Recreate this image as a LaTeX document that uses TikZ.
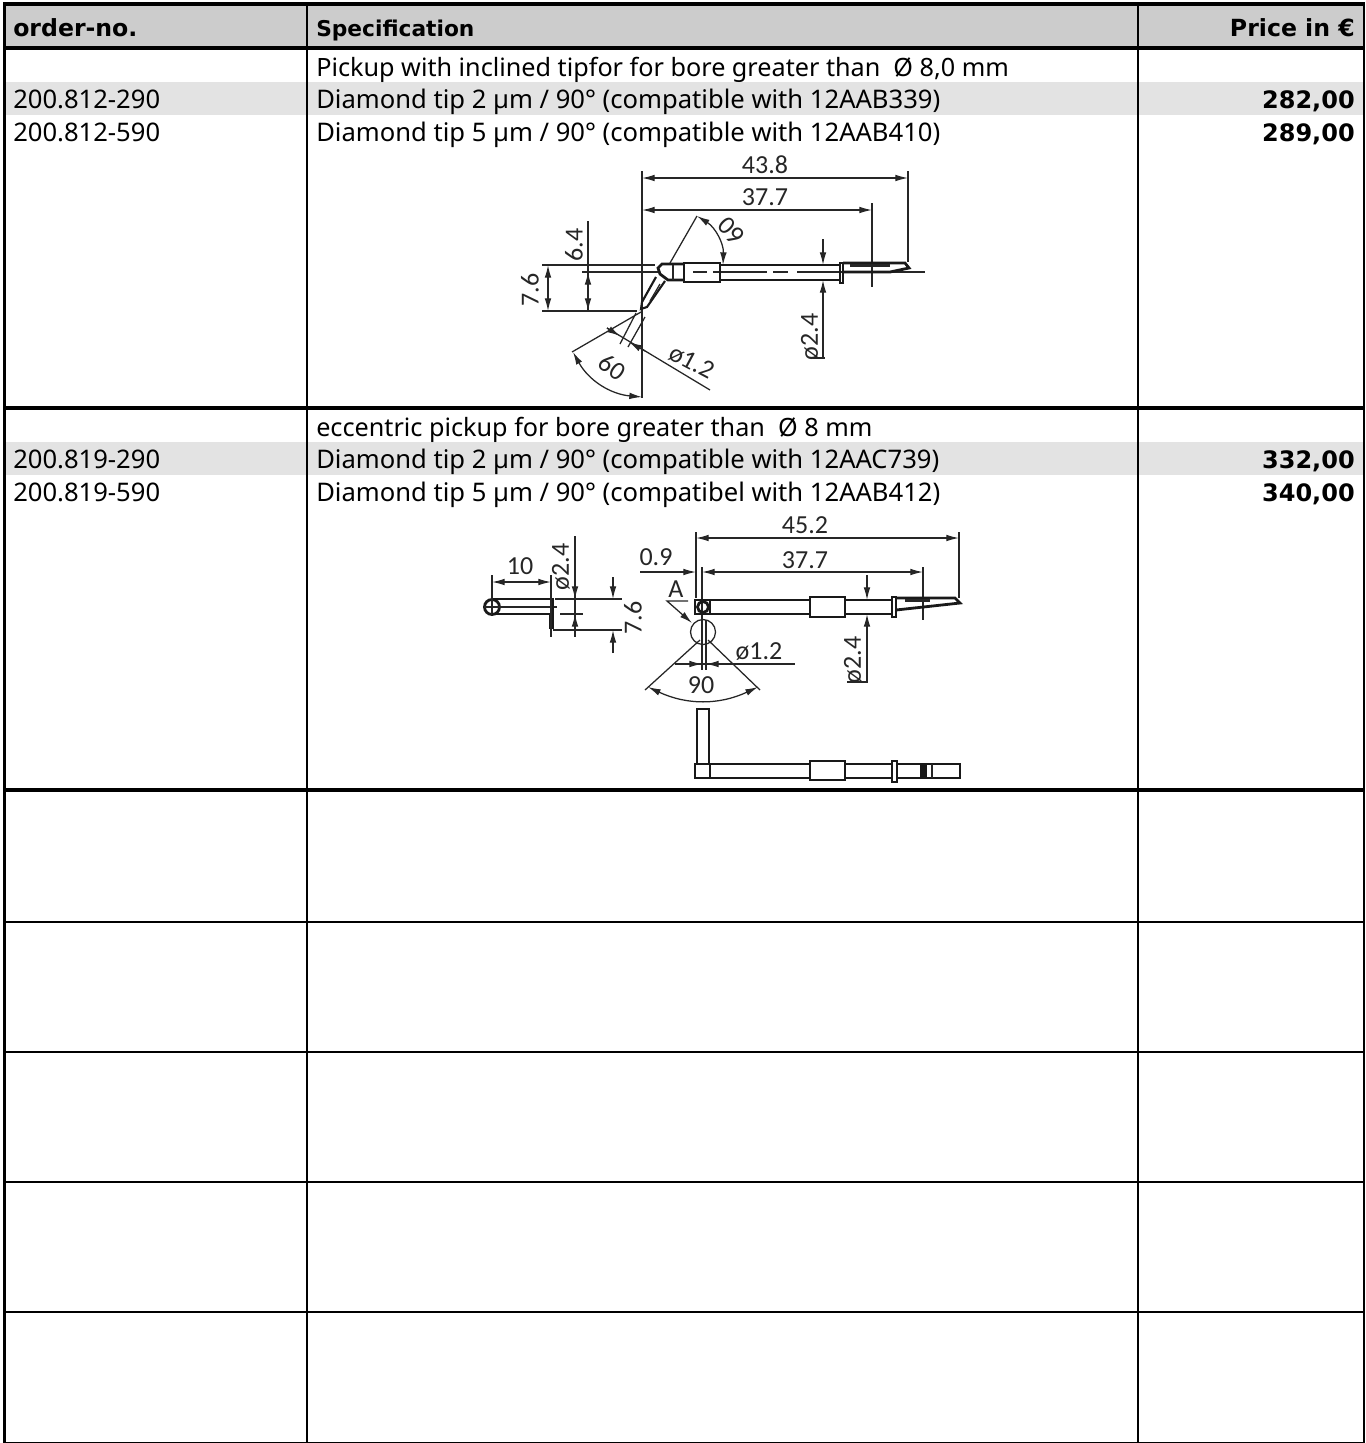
\documentclass[tikz,border=0pt]{standalone}
\usepackage{fontspec}
\setmainfont{Noto Sans}
\newfontfamily\dimfont{Carlito}
\newfontfamily\headfont{DejaVu Sans}
\usetikzlibrary{arrows.meta}

\def \xa {13}
\def \xb {316}
\def \xc {1355}

\tikzset{
  gridthick/.style={line width=3pt,black},
  gridthin/.style={line width=1.5pt,black},
  txt/.style={anchor=base west,inner sep=0pt,font=\fontsize{19.2pt}{20pt}\selectfont},
  title/.style={txt,font=\fontsize{18.9pt}{20pt}\selectfont},
  head/.style={anchor=base west,inner sep=0pt,font=\headfont\fontsize{17.7pt}{20pt}\selectfont\bfseries},
  price/.style={anchor=base east,inner sep=0pt,font=\headfont\fontsize{18pt}{20pt}\selectfont\bfseries},
  dimlab/.style={inner sep=0pt,font=\dimfont\fontsize{19.5pt}{20pt}\selectfont,text=black!85},
  dimline/.style={line width=0.95pt,black!85,>={Latex[length=9.5pt,width=5pt]}},
  body/.style={line width=2.1pt,black!90},
}

\begin{document}
\begin{tikzpicture}[x=0.75pt,y=-0.75pt]
  \useasboundingbox (0,0) rectangle (1365,1443);
  %bars
  \fill[black!20] (3,5) rectangle (1365,46);
  \fill[black!11] (3,82) rectangle (1365,115);
  \fill[black!11] (3,442) rectangle (1365,475);
  %grid
  \foreach \y in {4,48,408,790} \draw[gridthick] (3,\y) -- (1365,\y);
  \foreach \y in {922,1052,1182,1312} \draw[gridthin] (3,\y) -- (1365,\y);
  \draw[line width=0.75pt] (3,1442.5) -- (1365,1442.5);
  \draw[line width=2.4pt] (4.5,2) -- (4.5,1443);
  \draw[gridthin] (1364,2) -- (1364,1443);
  \foreach \x in {307,1138} \draw[gridthin] (\x,4) -- (\x,1443);
  %header
  \node[head] (order) at (\xa,36) {order-no.};
  \node[head,font=\headfont\fontsize{16.3pt}{20pt}\selectfont\bfseries] (spec) at (\xb,36) {Specification};
  \node[price,font=\headfont\fontsize{17.7pt}{20pt}\selectfont\bfseries] (pricehead) at (\xc,36) {Price in €};
  %first group
  \node[title] (titleone) at (\xb,76) {Pickup with inclined tipfor for bore greater than \ Ø 8,0 mm};
  \node[txt] (noa) at (\xa,108) {200.812-290};
  \node[txt] (speca) at (\xb,108) {Diamond tip 2 µm / 90° (compatible with 12AAB339)};
  \node[price] (pricea) at (\xc,108) {282,00};
  \node[txt] (nob) at (\xa,141) {200.812-590};
  \node[txt] (specb) at (\xb,141) {Diamond tip 5 µm / 90° (compatible with 12AAB410)};
  \node[price] (priceb) at (\xc,141) {289,00};
  %second group
  \node[title] (titletwo) at (\xb,436) {eccentric pickup for bore greater than \ Ø 8 mm};
  \node[txt] (noc) at (\xa,468) {200.819-290};
  \node[txt] (specc) at (\xb,468) {Diamond tip 2 µm / 90° (compatible with 12AAC739)};
  \node[price] (pricec) at (\xc,468) {332,00};
  \node[txt] (nod) at (\xa,501) {200.819-590};
  \node[txt] (specd) at (\xb,501) {Diamond tip 5 µm / 90° (compatibel with 12AAB412)};
  \node[price] (priced) at (\xc,501) {340,00};

  %inclined pickup, dimensions
  \draw[dimline] (642,171) -- (642,398);
  \draw[dimline] (908,171) -- (908,262);
  \draw[dimline] (872,203) -- (872,287);
  \draw[dimline,<->] (642,178) -- (908,178);
  \draw[dimline,<->] (642,210) -- (872,210);
  \node[dimlab] (lena) at (765,165) {43.8};
  \node[dimlab] (lenb) at (765,197) {37.7};
  \draw[dimline] (542,265) -- (655,265);
  \draw[dimline] (542,311) -- (637,311);
  \draw[dimline] (582,272) -- (660,272);
  \draw[dimline] (588,221) -- (588,311);
  \draw[dimline,<->] (548,265) -- (548,311);
  \draw[dimline,<->] (588,272) -- (588,311);
  \node[dimlab,rotate=90] (heighta) at (530,290) {7.6};
  \node[dimlab,rotate=90] (heightb) at (574,245) {6.4};
  \draw[dimline] (670,263) -- (697,216);
  \draw[dimline,<->] (697,216) to[bend left=30] (723,265);
  \node[dimlab,rotate=135] (anga) at (731,231) {60};
  \draw[dimline,->] (823,239) -- (823,265);
  \draw[dimline,->] (823,358) -- (823,280);
  \draw[dimline] (813,358) -- (825,358);
  \node[dimlab,rotate=90] (diaa) at (810,337) {ø2.4};
  \draw[dimline] (641,312) -- (572,352);
  \draw[dimline] (636,313) -- (620,344);
  \draw[dimline] (645,317) -- (628,347);
  \draw[dimline] (607,328) -- (710,390);
  \draw[dimline,->] (607,328) -- (620,336);
  \draw[dimline,->] (645,351) -- (629,342);
  \draw[dimline,<->] (573,352) to[bend right=28] (642,397);
  \node[dimlab,rotate=-35] (angb) at (612,367) {60};
  \node[dimlab,rotate=-28] (diab) at (692,362) {ø1.2};
  %inclined pickup, body
  \draw[dimline] (693,272) -- (707,272) (713,272) -- (767,272) (773,272) -- (788,272) (797,272) -- (925,272);
  \draw[body] (684,263) rectangle (720,282);
  \draw[body] (720,265) -- (840,265) (720,280) -- (840,280);
  \draw[body] (840,263) rectangle (843,283);
  \draw[body] (843,263) -- (905,263) -- (909,268) -- (890,272) -- (843,272);
  \draw[line width=2.5pt,black!85] (850,265.5) -- (890,265.5);
  \draw[body] (684,264) -- (662,264) -- (658,268) -- (660,274) -- (668,280) -- (684,280);
  \draw[dimline] (673,265) -- (673,280);
  \draw[line width=1.6pt,black!90] (656,277) -- (642,302) -- (641,309) -- (647,307) -- (665,281);
  \draw[dimline] (660,284) -- (650,301);

  %eccentric pickup, side view
  \draw[body] (492,607) circle (7.5);
  \draw[dimline] (484,607) -- (557,607) (492,600) -- (492,615);
  \draw[body] (492,599) -- (553,599) -- (553,614) -- (492,614);
  \draw[body] (550,614) rectangle (553,628);
  \draw[dimline,<->] (492,582) -- (551,582);
  \draw[dimline] (492,575) -- (492,600) (551,575) -- (551,637);
  \node[dimlab] (lenc) at (520,566) {10};
  \draw[dimline] (575,536) -- (575,637);
  \draw[dimline,->] (575,580) -- (575,599);
  \draw[dimline,->] (575,635) -- (575,614);
  \draw[dimline] (555,599) -- (622,599) (560,614) -- (583,614) (553,630) -- (622,630);
  \node[dimlab,rotate=90] (diac) at (561,567) {ø2.4};
  \draw[dimline,->] (613,577) -- (613,599);
  \draw[dimline,->] (613,653) -- (613,630);
  \node[dimlab,rotate=90] (heightc) at (633,618) {7.6};

  %eccentric pickup, front view
  \draw[dimline] (696,532) -- (696,598) (959,532) -- (959,598);
  \draw[dimline] (702,567) -- (702,670) (923,567) -- (923,620);
  \draw[dimline,<->] (696,538) -- (959,538);
  \draw[dimline,->] (640,572) -- (696,572);
  \draw[dimline,<->] (702,572) -- (923,572);
  \node[dimlab] (lend) at (805,525) {45.2};
  \node[dimlab] (lene) at (805,560) {37.7};
  \node[dimlab] (gap) at (656,557) {0.9};
  \node[dimlab] (mark) at (676,589) {A};
  \draw[dimline,->] (688,601) -- (667,601) -- (692,623);
  \draw[dimline] (703,632) circle (12.5);
  \draw[body] (695,600) rectangle (710,614);
  \draw[body] (703,607) circle (5.5);
  \draw[body] (710,600) -- (810,600) (710,614) -- (810,614);
  \draw[body] (810,597) rectangle (845,617);
  \draw[body] (845,600) -- (892,600) (845,614) -- (892,614);
  \draw[body] (892,597) rectangle (896,617);
  \draw[body] (896,598) -- (955,598) -- (960,603) -- (896,610);
  \draw[line width=2.5pt,black!85] (905,600.5) -- (930,600.5);
  \draw[dimline,->] (867,575) -- (867,600);
  \draw[dimline,->] (867,682) -- (867,614);
  \draw[dimline] (847,682) -- (868,682);
  \node[dimlab,rotate=90] (diad) at (853,660) {ø2.4};
  \draw[dimline] (700,640) -- (645,690) (708,640) -- (760,690);
  \draw[dimline,<->] (648,687) to[bend right=25] (758,687);
  \node[dimlab] (angc) at (701,685) {90};
  \draw[dimline] (706,620) -- (706,670);
  \draw[dimline] (675,664) -- (795,664);
  \draw[dimline,->] (675,664) -- (702,664);
  \draw[dimline,->] (722,664) -- (706,664);
  \node[dimlab] (diae) at (759,652) {ø1.2};

  %eccentric pickup, lower view
  \draw[body] (697,709) rectangle (709,764);
  \draw[body] (695,764) rectangle (710,778);
  \draw[body] (710,764) -- (810,764) (710,778) -- (810,778);
  \draw[body] (810,761) rectangle (845,780);
  \draw[body] (845,764) -- (892,764) (845,778) -- (892,778);
  \draw[body] (892,761) rectangle (897,782);
  \draw[body] (897,764) rectangle (960,778);
  \fill[black!90] (920,764) rectangle (927,778);
  \draw[dimline] (932,764) -- (932,778);
\end{tikzpicture}
\end{document}
